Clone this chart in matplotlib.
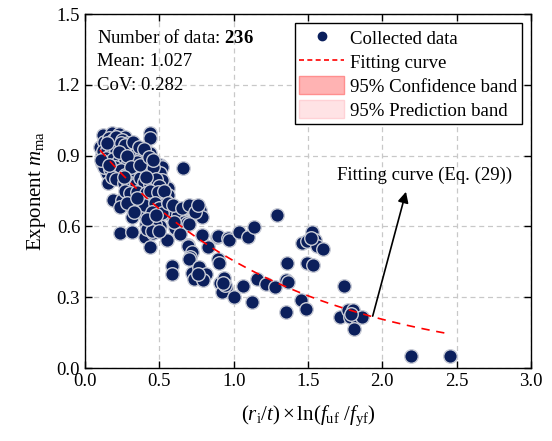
import numpy as np
import matplotlib
matplotlib.use("Agg")
import matplotlib.pyplot as plt
from matplotlib.lines import Line2D
from matplotlib.patches import Patch

plt.rcParams["font.family"] = ["Liberation Serif", "DejaVu Serif"]
plt.rcParams["mathtext.fontset"] = "custom"
plt.rcParams["mathtext.rm"] = "Liberation Serif"
plt.rcParams["mathtext.it"] = "Liberation Serif:italic"
plt.rcParams["mathtext.bf"] = "Liberation Serif:bold"

# collected test data: (ri/t)*ln(fuf/fyf) vs exponent m_ma
x_main = [0.123, 0.179, 0.231, 0.269, 0.437, 0.437,
          0.101, 0.146, 0.202, 0.231, 0.280, 0.314, 0.348,
          0.112, 0.168, 0.247, 0.314, 0.370, 0.437,
          0.112, 0.179, 0.258, 0.336, 0.404, 0.504, 0.657,
          0.146, 0.224, 0.291, 0.359, 0.415, 0.493, 0.516,
          0.157, 0.247, 0.314, 0.359, 0.426, 0.527,
          0.314, 0.392, 0.471, 0.561, 0.561,
          0.190, 0.247, 0.235, 0.314, 0.381, 0.426, 0.459, 0.516, 0.538,
          0.314, 0.437, 0.482, 0.426, 0.504,
          0.235, 0.314, 0.404, 0.459, 0.549, 0.605, 0.628,
          0.684, 0.717, 0.751, 0.773, 0.784, 0.672, 0.784, 0.885, 0.695, 0.829]
y_main = [0.987, 0.997, 0.990, 0.980, 0.994, 0.973,
          0.938, 0.945, 0.952, 0.945, 0.938, 0.931, 0.924,
          0.903, 0.910, 0.896, 0.882, 0.889, 0.910,
          0.867, 0.867, 0.860, 0.853, 0.867, 0.860, 0.848,
          0.825, 0.832, 0.839, 0.832, 0.839, 0.832, 0.853,
          0.783, 0.797, 0.804, 0.790, 0.804, 0.790,
          0.769, 0.769, 0.762, 0.762, 0.734,
          0.713, 0.713, 0.684, 0.684, 0.719, 0.713, 0.727, 0.713, 0.699,
          0.642, 0.635, 0.628, 0.607, 0.600,
          0.571, 0.578, 0.557, 0.571, 0.542, 0.592, 0.649,
          0.684, 0.687, 0.684, 0.670, 0.642, 0.621, 0.564, 0.557, 0.522, 0.515]

x_mid = [0.392, 0.410, 0.450, 0.470, 0.420, 0.450, 0.437, 0.498, 0.538, 0.553,
         0.504, 0.516, 0.553, 0.628, 0.666, 0.688, 0.690, 0.717, 0.706, 0.701,
         0.897, 0.964, 0.971, 1.038, 1.094, 1.137, 1.289, 0.583, 0.583,
         0.717, 0.769, 0.784, 0.813, 0.735, 0.791, 0.897, 0.903,
         0.908, 0.935, 0.946, 0.919, 0.942, 1.004, 1.060, 1.121, 1.154, 1.215, 1.278]
y_mid = [0.655, 0.610, 0.620, 0.610, 0.590, 0.580, 0.513, 0.580, 0.712, 0.684,
         0.825, 0.796, 0.658, 0.648, 0.620, 0.616, 0.517, 0.493, 0.469, 0.461,
         0.559, 0.549, 0.542, 0.577, 0.556, 0.598, 0.648, 0.432, 0.398,
         0.401, 0.429, 0.394, 0.398, 0.376, 0.373, 0.461, 0.443,
         0.359, 0.380, 0.338, 0.323, 0.352, 0.299, 0.349, 0.281, 0.377, 0.358, 0.344]

x_tail = [1.352, 1.363, 1.361, 1.352, 1.450, 1.486, 1.524, 1.457, 1.495, 1.547,
          1.563, 1.603, 1.495, 1.531, 1.744, 1.715, 1.771, 1.805, 1.782, 1.827,
          1.861, 1.809, 2.190, 2.455]
y_tail = [0.373, 0.366, 0.446, 0.239, 0.288, 0.249, 0.575, 0.530, 0.537, 0.541,
          0.516, 0.506, 0.446, 0.436, 0.347, 0.217, 0.245, 0.248, 0.217, 0.214,
          0.217, 0.165, 0.050, 0.050]

# points hidden inside the dense group
x_dense = [0.13, 0.16, 0.19, 0.21, 0.25, 0.29, 0.33, 0.12, 0.15, 0.18, 0.21, 0.26, 0.30,
           0.34, 0.38, 0.14, 0.19, 0.22, 0.27, 0.29, 0.35, 0.39, 0.42, 0.13, 0.17, 0.20,
           0.24, 0.27, 0.31, 0.33, 0.38, 0.44, 0.46, 0.18, 0.21, 0.26, 0.29, 0.34, 0.37,
           0.40, 0.44, 0.48, 0.50, 0.27, 0.30, 0.35, 0.41, 0.44, 0.49, 0.53, 0.36, 0.40,
           0.47, 0.50, 0.28, 0.33, 0.45, 0.52, 0.56, 0.59, 0.15, 0.24, 0.27, 0.32, 0.36,
           0.40, 0.11, 0.16, 0.23, 0.28, 0.31, 0.37, 0.43, 0.46, 0.26, 0.41, 0.35, 0.42,
           0.48, 0.60, 0.65, 0.70, 0.74, 0.76, 0.70, 0.64, 0.76, 0.93, 1.79, 1.52]
y_dense = [0.960, 0.975, 0.965, 0.980, 0.965, 0.955, 0.945, 0.920, 0.925, 0.930, 0.920,
           0.925, 0.915, 0.905, 0.910, 0.890, 0.885, 0.875, 0.880, 0.870, 0.875, 0.850,
           0.870, 0.850, 0.845, 0.850, 0.840, 0.820, 0.825, 0.815, 0.820, 0.820, 0.850,
           0.810, 0.800, 0.785, 0.790, 0.780, 0.805, 0.790, 0.780, 0.800, 0.770, 0.750,
           0.740, 0.745, 0.740, 0.750, 0.745, 0.750, 0.700, 0.690, 0.700, 0.680, 0.700,
           0.660, 0.660, 0.655, 0.700, 0.690, 0.955, 0.955, 0.945, 0.960, 0.935, 0.930,
           0.880, 0.860, 0.915, 0.900, 0.850, 0.860, 0.895, 0.880, 0.810, 0.810, 0.720,
           0.630, 0.650, 0.620, 0.680, 0.690, 0.660, 0.690, 0.610, 0.570, 0.400, 0.360,
           0.230, 0.550]

x_data = np.array(x_main + x_mid + x_tail + x_dense)
y_data = np.array(y_main + y_mid + y_tail + y_dense)

# fitted curve m = a*exp(-b*x)
fit_a, fit_b = 1.0, 0.789
fit_xmin, fit_xmax = 0.10, 2.455

navy = "#0b1f5c"

fig = plt.figure(figsize=(5.52, 4.41), dpi=100)
ax = fig.add_axes([0.154, 0.1655, 0.808, 0.8025])

ax.grid(True, ls=(0, (4, 3)), color="#c8c8c8", lw=0.9, zorder=0)
ax.scatter(x_data, y_data, s=95, c=navy, edgecolors="#c9ccd6", linewidths=1.0, zorder=3)

xf = np.linspace(fit_xmin, fit_xmax, 200)
ax.plot(xf, fit_a * np.exp(-fit_b * xf), color="red", ls=(0, (5, 4)), lw=1.2, zorder=4)

ax.annotate("", xy=(2.159, 0.747), xytext=(1.935, 0.220),
            arrowprops=dict(arrowstyle="-|>", color="k", lw=1.2, mutation_scale=16,
                            shrinkA=0, shrinkB=0), zorder=5)
ax.text(2.287, 0.818, "Fitting curve (Eq. (29))", fontsize=13.5, ha="center", va="center")

ax.text(0.027, 0.932, r"Number of data: $\mathbf{236}$", transform=ax.transAxes,
        fontsize=13.5, va="center")
ax.text(0.027, 0.866, "Mean: 1.027", transform=ax.transAxes, fontsize=13.5, va="center")
ax.text(0.027, 0.799, "CoV: 0.282", transform=ax.transAxes, fontsize=13.5, va="center")

handles = [
    Line2D([], [], ls="none", marker="o", ms=6, color=navy),
    Line2D([], [], color="red", ls=(0, (3, 2)), lw=1.2),
    Patch(facecolor="#ffb3b3", edgecolor="#ff8f8f"),
    Patch(facecolor="#ffe3e5", edgecolor="#ffd2d6"),
]
labels = ["Collected data", "Fitting curve", "95% Confidence band", "95% Prediction band"]
leg = ax.legend(handles, labels, loc="upper right", fontsize=13.5, frameon=True,
                fancybox=False, framealpha=1, edgecolor="black", borderaxespad=0.5,
                handlelength=2.4, handleheight=1.1, handletextpad=0.3, labelspacing=0.25,
                borderpad=0.25)
leg.get_frame().set_linewidth(1.0)
leg.set_zorder(6)

ax.set_xlim(0, 3.0)
ax.set_ylim(0, 1.5)
ax.set_xticks(np.arange(0, 3.01, 0.5))
ax.set_yticks(np.arange(0, 1.51, 0.3))
ax.xaxis.set_major_formatter(matplotlib.ticker.FormatStrFormatter("%.1f"))
ax.yaxis.set_major_formatter(matplotlib.ticker.FormatStrFormatter("%.1f"))
ax.tick_params(direction="in", top=True, right=True, length=5, width=1.0, labelsize=13.5)
for sp in ax.spines.values():
    sp.set_linewidth(1.0)

ax.set_xlabel(r"$(r_\mathrm{i}/t)\times\mathrm{ln}(f_\mathrm{uf}\ /f_\mathrm{yf})$", fontsize=15, labelpad=10)
ax.set_ylabel(r"Exponent $m_\mathrm{ma}$", fontsize=15, labelpad=6)

fig.savefig("out.png", dpi=100)
